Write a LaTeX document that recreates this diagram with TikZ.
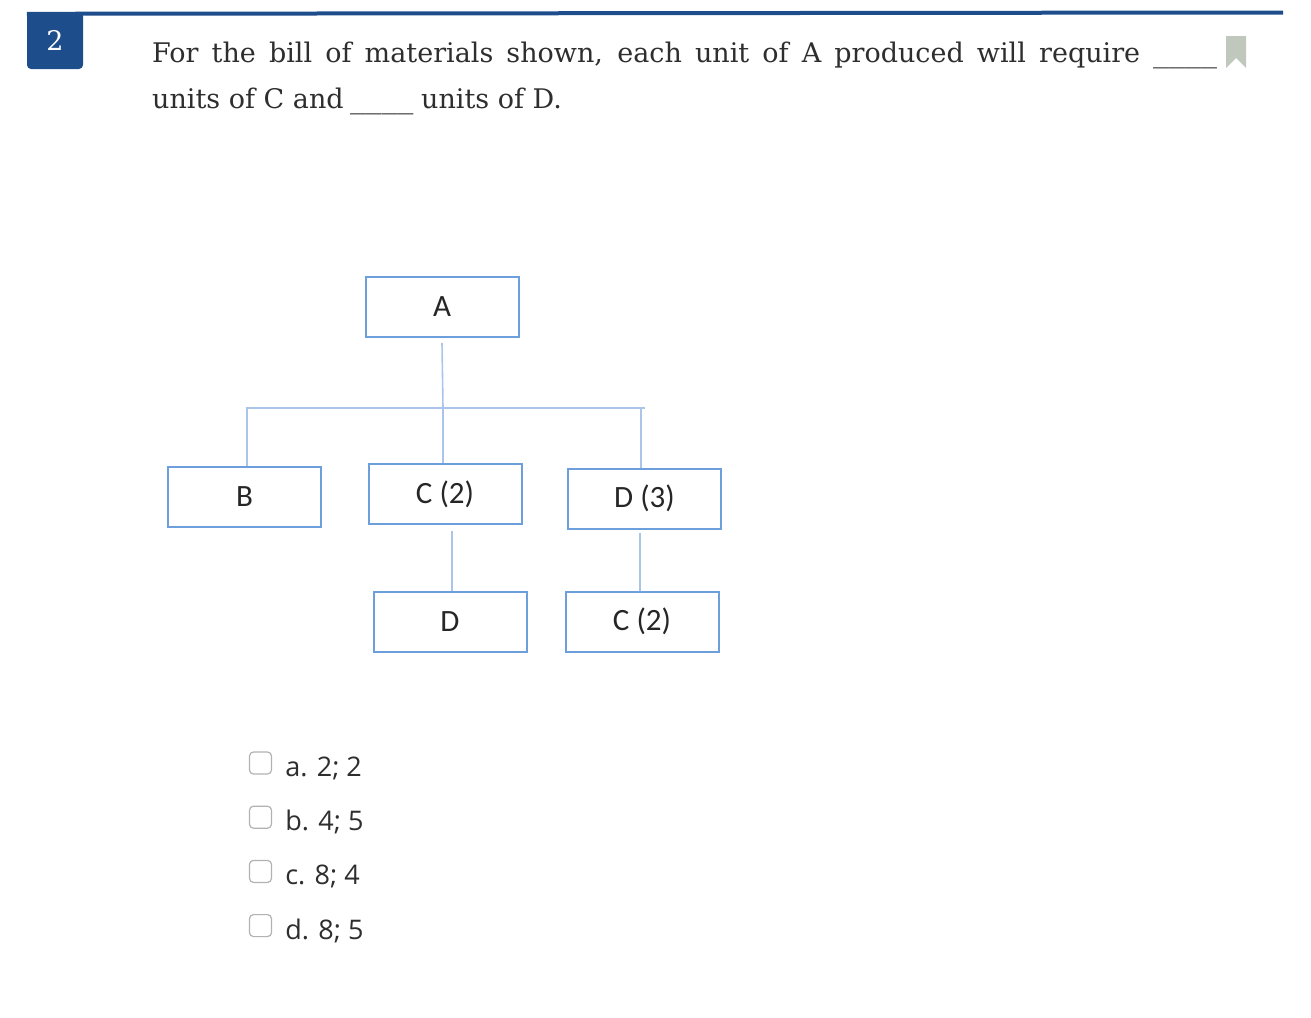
\documentclass[tikz,border=0pt]{standalone}
\usepackage{fontspec}
\setmainfont{DejaVu Serif}
\newfontfamily\boxfont{Carlito}
\newfontfamily\optfont{Open Sans}
\usetikzlibrary{positioning, calc}

\definecolor{badgeblue}{HTML}{1E4D8C}
\definecolor{boxblue}{HTML}{6C9FDC}
\definecolor{linkblue}{HTML}{A9C6EA}
\definecolor{textgray}{HTML}{2E2E2E}
\definecolor{markgray}{HTML}{C0C8BE}

\begin{document}
\begin{tikzpicture}[x=1pt, y=-1pt]

        % --- 定义样式 ---
        \tikzstyle{part} = [rectangle, minimum width=153pt, minimum height=60pt, text centered, draw=boxblue, line width=2pt, font=\boxfont\fontsize{31}{34}\selectfont, text=black!85]
        \tikzstyle{link} = [linkblue, line width=1.6pt]
        \tikzstyle{tickbox} = [rectangle, rounded corners=4pt, draw=black!30, line width=1.2pt, minimum width=22pt, minimum height=22pt]
        \tikzstyle{choice} = [font=\optfont\fontsize{27}{30}\selectfont, text=textgray, inner sep=0pt, anchor=west]
        \tikzstyle{question} = [font=\fontsize{27}{30}\selectfont, text=textgray, inner sep=0pt, anchor=base west]

        \useasboundingbox (0,0) rectangle (1311,1017);

        % --- 题号与顶部线 ---
        \node (badge) [rounded corners=4pt, fill=badgeblue, minimum width=56pt, minimum height=57pt, text=white, font=\fontsize{27}{30}\selectfont] at (55,40.5) {2};
        \fill[badgeblue] (badge.north west) rectangle ++(10,4);
        \draw[badgeblue, line width=4pt] (badge.north west) ++(0,2) -- (1283,12.5);

        % bookmark
        \fill[markgray] (1226,36) -- (1246,36) -- (1246,68) -- (1236,58) -- (1226,68) -- cycle;

        % --- 题目 ---
        \node (line1) [question] at (152,62) {\makebox[988pt][s]{For the bill of materials shown, each unit of A produced will require}};
        \node (blank1) [question] at (1153,62) {\scalebox{1.18}[1]{\_\_\_\_}};
        \node (line2a) [question] at (152,108) {units of C and};
        \node (blank2) [question] at (350,108) {\scalebox{1.17}[1]{\_\_\_\_}};
        \node (line2b) [question] at (421,108) {units of D.};

        % --- 物料清单 ---
        \node (A) [part] at (442,307) {A};
        \node (B) [part] at (244.5,497) {B};
        \node (C2) [part] at (445,494) {C (2)};
        \node (D3) [part] at (644.5,498.5) {D (3)};
        \node (D) [part] at (450,621.5) {D};
        \node (C2b) [part] at (642,621.5) {C (2)};

        \coordinate (bus) at (443,408);
        \coordinate (busR) at (645,408);

        % --- 连线 ---
        \draw[link] ([yshift=-5pt]A.south) -- (bus);
        \draw[link] ([xshift=2.5pt]B.north) |- (busR);
        \draw[link] ([xshift=-2pt]C2.north) -- ([xshift=-2pt]C2.north |- bus);
        \draw[link] ([xshift=-3.5pt]D3.north) -- ([xshift=-3.5pt]D3.north |- bus);
        \draw[link] ([xshift=7pt,yshift=-6pt]C2.south) -- ([xshift=2pt]D.north);
        \draw[link] ([xshift=-4.5pt,yshift=-3pt]D3.south) -- ([xshift=-2pt]C2b.north);

        % --- 选项 ---
        \node (boxa) [tickbox] at (260.5,763) {};
        \node (opta) [choice, right=13pt of boxa.east, yshift=-5pt] {a. 2; 2};
        \node (boxb) [tickbox, below=31pt of boxa] {};
        \node (optb) [choice, right=13pt of boxb.east, yshift=-5pt] {b. 4; 5};
        \node (boxc) [tickbox, below=31pt of boxb] {};
        \node (optc) [choice, right=13pt of boxc.east, yshift=-5pt] {c. 8; 4};
        \node (boxd) [tickbox, below=31pt of boxc] {};
        \node (optd) [choice, right=13pt of boxd.east, yshift=-5pt] {d. 8; 5};

\end{tikzpicture}
\end{document}
